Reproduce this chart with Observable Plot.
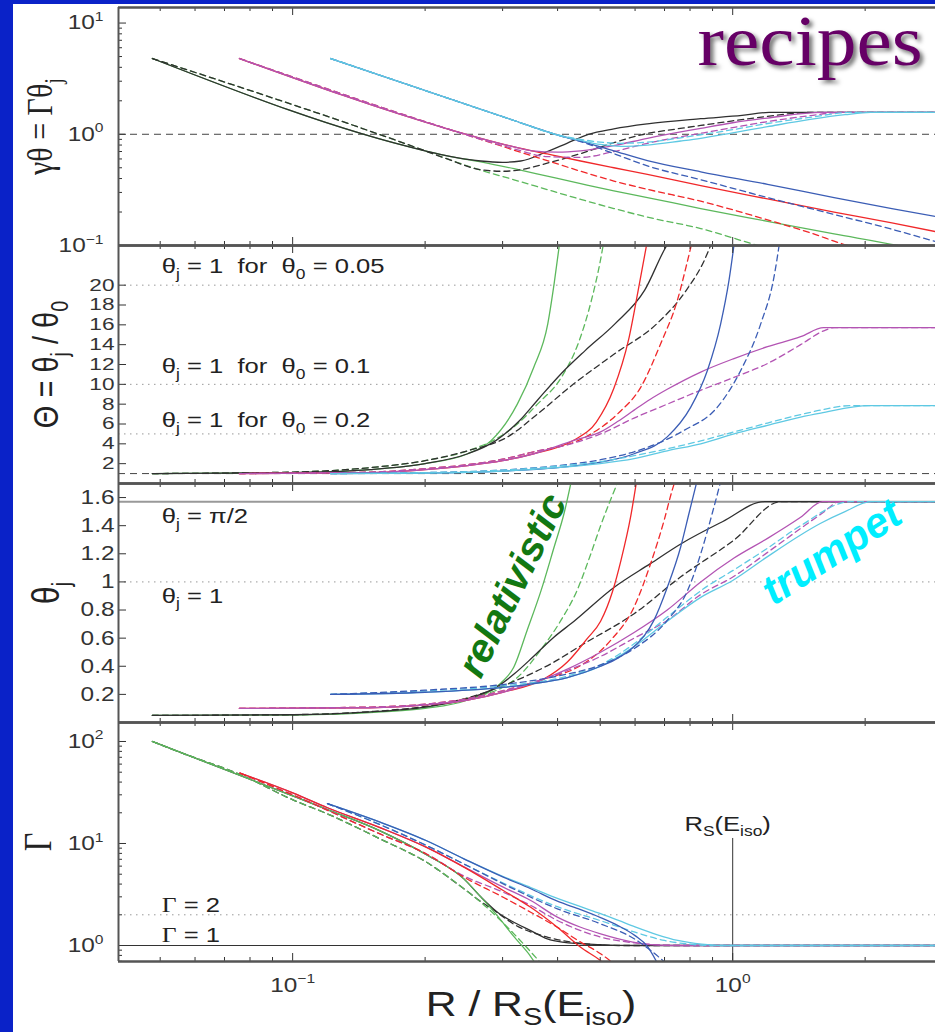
<!DOCTYPE html>
<html>
<head>
<meta charset="utf-8">
<script src="https://cdn.jsdelivr.net/npm/d3@7"></script>
<script src="https://cdn.jsdelivr.net/npm/@observablehq/plot@0.6"></script>
<style>
  html, body { margin: 0; padding: 0; background: #0a22c8; }
  #slide { position: relative; width: 935px; height: 1032px; background: #0a22c8; overflow: hidden; }
  #sheet { position: absolute; left: 13px; top: 4px; width: 922px; height: 1028px; background: #fff; }
</style>
</head>
<body>
<div id="slide"><div id="sheet"></div></div>
<script>
// ---- shared x axis: R / R_S(E_iso), logarithmic ----
const xDomain = [0.0402, 2.89];
const xMajor = [0.1, 1];
const xMinor = [0.05, 0.06, 0.07, 0.08, 0.09, 0.2, 0.3, 0.4, 0.5, 0.6, 0.7, 0.8, 0.9, 2];
const xTickLabels = [[0.1, "10^{−1}"], [1, "10^{0}"]];

// ---- panel 1: γθ = Γθj  (pairs are [R, value]) ----
const gt_green   = [[0.048,4.8],[0.2,0.71],[0.2246,0.64],[0.2676,0.565],[0.3185,0.49],[0.379,0.42],[0.4513,0.36],[0.537,0.31],[0.64,0.27],[0.846,0.215],[1.2,0.165],[1.7,0.127],[2.37,0.1],[2.6,0.092]];
const gt_green_d = [[0.048,4.8],[0.2,0.71],[0.2246,0.60],[0.2676,0.475],[0.3185,0.39],[0.379,0.318],[0.4513,0.26],[0.537,0.215],[0.64,0.18],[0.846,0.142],[1.14,0.1],[1.25,0.09]];
const gt_black   = [[0.048,4.8],[0.2,0.71],[0.2246,0.64],[0.2676,0.575],[0.3,0.56],[0.33,0.575],[0.379,0.7],[0.42,0.83],[0.47,1.0],[0.537,1.12],[0.64,1.24],[0.846,1.38],[1.05,1.48],[1.21,1.5708],[2.9,1.5708]];
const gt_black_d = [[0.048,4.8],[0.2,0.71],[0.2246,0.60],[0.2676,0.48],[0.3,0.465],[0.33,0.48],[0.379,0.55],[0.4513,0.67],[0.537,0.84],[0.62,0.99],[0.75,1.12],[0.846,1.2],[1.0,1.32],[1.2,1.45],[1.5,1.5708],[2.9,1.5708]];
const gt_red     = [[0.0757,4.8],[0.2246,1.12],[0.2676,0.92],[0.3185,0.77],[0.379,0.665],[0.4513,0.575],[0.537,0.5],[0.64,0.435],[0.846,0.345],[1.2,0.262],[1.7,0.2],[2.3,0.16],[2.9,0.133]];
const gt_red_d   = [[0.0757,4.8],[0.2246,1.12],[0.2676,0.9],[0.3185,0.72],[0.379,0.58],[0.4513,0.465],[0.537,0.38],[0.64,0.32],[0.846,0.25],[1.2,0.17],[1.5,0.13],[1.83,0.1],[1.95,0.094]];
const gt_mag     = [[0.0757,4.8],[0.2246,1.12],[0.2676,0.92],[0.3185,0.77],[0.35,0.71],[0.4,0.69],[0.4513,0.71],[0.537,0.79],[0.64,0.92],[0.846,1.13],[1.0,1.27],[1.2,1.4],[1.6,1.5708],[2.9,1.5708]];
const gt_mag_d   = [[0.0757,4.8],[0.2246,1.12],[0.2676,0.9],[0.3185,0.74],[0.379,0.63],[0.4513,0.62],[0.537,0.7],[0.64,0.83],[0.846,1.02],[1.0,1.15],[1.2,1.3],[1.5,1.47],[1.75,1.5708],[2.9,1.5708]];
const gt_cyan    = [[0.122,4.8],[0.3185,1.33],[0.395,1.0],[0.4513,0.88],[0.5,0.81],[0.557,0.78],[0.64,0.8],[0.762,0.87],[0.846,0.92],[1.0,1.03],[1.2,1.17],[1.5,1.36],[1.8,1.5],[2.06,1.5708],[2.9,1.5708]];
const gt_cyan_d  = [[0.122,4.8],[0.3185,1.33],[0.395,1.0],[0.4513,0.9],[0.5,0.85],[0.557,0.83],[0.64,0.85],[0.762,0.93],[0.846,0.99],[1.0,1.1],[1.2,1.25],[1.5,1.42],[1.85,1.5708],[2.9,1.5708]];
const gt_blue    = [[0.122,4.8],[0.3185,1.33],[0.395,1.0],[0.4513,0.87],[0.537,0.71],[0.64,0.58],[0.846,0.46],[1.2,0.355],[1.7,0.27],[2.3,0.215],[2.9,0.182]];
const gt_blue_d  = [[0.122,4.8],[0.3185,1.33],[0.395,1.0],[0.4513,0.86],[0.537,0.67],[0.64,0.52],[0.846,0.39],[1.2,0.27],[1.7,0.19],[2.3,0.14],[2.9,0.108]];
const gtTicks = [[0.1, "10^{−1}"], [1, "10^{0}"], [10, "10^{1}"]];

// ---- panel 2: Θ = θj / θ0 ----
const th_green   = [[0.048,1.0],[0.1,1.1],[0.15,1.4],[0.2,2.0],[0.25,3.0],[0.282,4.3],[0.324,8.0],[0.353,11.7],[0.38,16.1],[0.393,20.2],[0.405,24.5]];
const th_green_d = [[0.048,1.0],[0.1,1.15],[0.15,1.6],[0.2,2.3],[0.25,3.3],[0.29,4.5],[0.318,5.7],[0.36,8.0],[0.408,10.7],[0.448,14.4],[0.477,18.4],[0.5,22.4],[0.51,24.5]];
const th_black   = [[0.048,1.0],[0.1,1.1],[0.15,1.4],[0.2,2.0],[0.25,3.0],[0.289,4.3],[0.328,6.35],[0.36,8.4],[0.408,11.1],[0.462,13.4],[0.54,16.1],[0.631,19.5],[0.704,23.8],[0.72,24.5]];
const th_black_d = [[0.048,1.0],[0.1,1.15],[0.15,1.6],[0.2,2.3],[0.25,3.3],[0.308,4.7],[0.36,7.0],[0.434,10.0],[0.54,13.1],[0.672,16.1],[0.785,19.5],[0.862,22.5],[0.9,24.5]];
const th_red     = [[0.0757,1.0],[0.15,1.1],[0.2,1.4],[0.25,1.8],[0.3,2.3],[0.353,3.0],[0.434,4.33],[0.49,6.2],[0.537,9.6],[0.58,14.5],[0.61,19.5],[0.64,24.5]];
const th_red_d   = [[0.0757,1.0],[0.15,1.15],[0.2,1.5],[0.25,1.9],[0.3,2.45],[0.353,3.2],[0.459,4.6],[0.547,7.0],[0.618,9.7],[0.686,14.1],[0.749,18.5],[0.79,22.5],[0.81,24.5]];
const th_mag     = [[0.0757,1.0],[0.15,1.1],[0.2,1.4],[0.25,1.8],[0.3,2.3],[0.353,3.0],[0.434,4.33],[0.501,5.2],[0.55,6.3],[0.597,7.4],[0.65,8.5],[0.71,9.5],[0.846,11.24],[1.007,12.6],[1.2,13.8],[1.427,14.8],[1.61,15.71],[2.9,15.71]];
const th_mag_d   = [[0.0757,1.0],[0.15,1.15],[0.2,1.5],[0.25,1.9],[0.3,2.45],[0.353,3.2],[0.421,3.9],[0.501,5.0],[0.597,6.6],[0.71,8.0],[0.846,9.4],[1.007,10.7],[1.2,12.1],[1.427,14.0],[1.61,15.4],[1.7,15.71],[2.9,15.71]];
const th_cyan    = [[0.122,1.0],[0.2,1.05],[0.3,1.25],[0.4,1.6],[0.5,2.0],[0.597,2.5],[0.71,3.3],[0.846,4.0],[1.007,5.0],[1.2,5.86],[1.427,6.7],[1.585,7.1],[2.04,7.85],[2.9,7.85]];
const th_cyan_d  = [[0.122,1.0],[0.2,1.1],[0.3,1.35],[0.4,1.75],[0.5,2.2],[0.597,2.8],[0.71,3.5],[0.846,4.3],[1.007,5.2],[1.2,6.1],[1.427,6.95],[1.585,7.4],[1.85,7.85],[2.9,7.85]];
const th_blue    = [[0.122,1.0],[0.2,1.05],[0.3,1.25],[0.4,1.6],[0.501,2.15],[0.597,3.0],[0.71,4.7],[0.803,7.7],[0.876,11.4],[0.939,16.1],[0.981,20.5],[1.01,24.5]];
const th_blue_d  = [[0.122,1.0],[0.2,1.1],[0.3,1.35],[0.4,1.8],[0.501,2.4],[0.597,3.2],[0.775,5.35],[0.923,7.7],[1.043,11.4],[1.158,16.1],[1.241,20.8],[1.28,24.5]];
const thTicks = [2, 4, 6, 8, 10, 12, 14, 16, 18, 20];

// ---- panel 3: θj ----
const tj_green   = [[0.048,0.05],[0.1,0.053],[0.16,0.075],[0.2,0.1],[0.25,0.16],[0.297,0.28],[0.318,0.393],[0.341,0.655],[0.367,0.94],[0.393,1.25],[0.414,1.49],[0.43,1.72]];
const tj_green_d = [[0.048,0.05],[0.1,0.055],[0.15,0.075],[0.2,0.11],[0.25,0.175],[0.3,0.25],[0.324,0.32],[0.367,0.52],[0.407,0.726],[0.443,0.94],[0.476,1.2],[0.501,1.4],[0.55,1.72]];
const tj_black   = [[0.048,0.05],[0.1,0.055],[0.15,0.075],[0.2,0.11],[0.25,0.17],[0.29,0.25],[0.32,0.35],[0.35,0.46],[0.39,0.6],[0.436,0.72],[0.537,0.96],[0.65,1.13],[0.762,1.27],[0.95,1.43],[1.18,1.5708],[2.9,1.5708]];
const tj_black_d = [[0.048,0.05],[0.1,0.056],[0.15,0.077],[0.2,0.115],[0.25,0.175],[0.3,0.26],[0.386,0.417],[0.459,0.56],[0.597,0.774],[0.762,1.036],[1.007,1.298],[1.285,1.5708],[2.9,1.5708]];
const tj_red     = [[0.0757,0.1],[0.15,0.105],[0.2,0.125],[0.25,0.16],[0.3,0.215],[0.373,0.31],[0.421,0.43],[0.468,0.6],[0.501,0.72],[0.533,0.93],[0.557,1.15],[0.586,1.46],[0.605,1.72]];
const tj_red_d   = [[0.0757,0.1],[0.15,0.11],[0.2,0.13],[0.25,0.17],[0.3,0.225],[0.373,0.31],[0.444,0.393],[0.528,0.584],[0.597,0.822],[0.651,1.131],[0.699,1.441],[0.729,1.655],[0.74,1.72]];
const tj_mag     = [[0.0757,0.1],[0.15,0.105],[0.2,0.125],[0.25,0.16],[0.3,0.215],[0.373,0.31],[0.421,0.38],[0.501,0.5],[0.597,0.64],[0.71,0.8],[0.846,1.0],[1.007,1.17],[1.2,1.31],[1.427,1.46],[1.6,1.5708],[2.9,1.5708]];
const tj_mag_d   = [[0.0757,0.1],[0.15,0.11],[0.2,0.13],[0.25,0.17],[0.3,0.225],[0.373,0.31],[0.421,0.37],[0.501,0.47],[0.597,0.6],[0.71,0.726],[0.846,0.91],[1.007,1.04],[1.2,1.21],[1.427,1.38],[1.6,1.49],[1.75,1.5708],[2.9,1.5708]];
const tj_cyan    = [[0.122,0.2],[0.2,0.215],[0.3,0.25],[0.35,0.275],[0.421,0.32],[0.501,0.4],[0.597,0.54],[0.71,0.72],[0.846,0.89],[1.0,1.01],[1.2,1.18],[1.427,1.334],[1.585,1.417],[1.8,1.5],[2.06,1.5708],[2.9,1.5708]];
const tj_cyan_d  = [[0.122,0.2],[0.2,0.225],[0.3,0.26],[0.421,0.33],[0.501,0.41],[0.597,0.56],[0.71,0.75],[0.876,0.97],[1.0,1.08],[1.2,1.24],[1.427,1.4],[1.85,1.5708],[2.9,1.5708]];
const tj_blue    = [[0.122,0.2],[0.2,0.215],[0.3,0.25],[0.35,0.275],[0.421,0.32],[0.501,0.4],[0.55,0.46],[0.597,0.54],[0.663,0.73],[0.71,0.96],[0.762,1.25],[0.796,1.49],[0.83,1.72]];
const tj_blue_d  = [[0.122,0.2],[0.2,0.23],[0.3,0.27],[0.4,0.33],[0.501,0.41],[0.6,0.53],[0.71,0.726],[0.79,0.94],[0.846,1.2],[0.899,1.49],[0.94,1.72]];
const tjTicks = [[0.2,"0.2"],[0.4,"0.4"],[0.6,"0.6"],[0.8,"0.8"],[1,"1"],[1.2,"1.2"],[1.4,"1.4"],[1.6,"1.6"]];

// ---- panel 4: Γ ----
const lf_green   = [[0.048,100],[0.1007,29],[0.12,21.5],[0.158,13.3],[0.201,7.8],[0.245,4.5],[0.2676,3.0],[0.292,1.95],[0.3184,1.22],[0.3475,0.78],[0.36,0.62]];
const lf_green_d = [[0.048,100],[0.0556,78],[0.0759,47.5],[0.1007,26.5],[0.12,19.5],[0.158,11.1],[0.201,6.6],[0.245,3.6],[0.2676,2.66],[0.3184,1.3],[0.379,0.57]];
const lf_black   = [[0.048,100],[0.1007,29],[0.12,21.5],[0.158,13.3],[0.201,7.8],[0.245,4.5],[0.2676,3.0],[0.292,2.12],[0.318,1.69],[0.3475,1.4],[0.379,1.16],[0.41,1.08],[0.5,1.02],[0.6,1.0],[2.9,1.0]];
const lf_black_d = [[0.048,100],[0.0556,78],[0.0759,47.5],[0.1007,26.5],[0.12,19.5],[0.158,11.1],[0.201,6.6],[0.245,3.6],[0.2676,2.7],[0.292,2.1],[0.318,1.62],[0.379,1.21],[0.4513,1.05],[0.55,1.0],[2.9,1.0]];
const lf_red     = [[0.0759,49],[0.1007,31],[0.12,22.4],[0.158,14.3],[0.201,9.2],[0.245,5.86],[0.301,3.46],[0.3475,2.37],[0.3995,1.51],[0.4513,0.96],[0.501,0.71],[0.52,0.62]];
const lf_red_d   = [[0.0759,49],[0.1007,29.6],[0.158,12.4],[0.201,7.93],[0.245,4.68],[0.301,2.97],[0.3475,2.12],[0.3995,1.51],[0.4513,1.08],[0.501,0.83],[0.54,0.65]];
const lf_mag     = [[0.0759,49],[0.1007,31],[0.12,22.4],[0.158,14.3],[0.201,9.2],[0.245,5.9],[0.301,3.73],[0.3475,2.76],[0.3995,1.9],[0.4513,1.51],[0.501,1.3],[0.593,1.08],[0.65,1.02],[0.75,1.0],[2.9,1.0]];
const lf_mag_d   = [[0.0759,49],[0.1007,29.6],[0.158,12.4],[0.201,7.93],[0.245,4.8],[0.301,3.33],[0.3475,2.47],[0.3995,1.76],[0.4513,1.4],[0.501,1.21],[0.6,1.06],[0.7,1.01],[0.8,1.0],[2.9,1.0]];
const lf_blue    = [[0.12,24.6],[0.158,16.2],[0.201,10.7],[0.245,7.08],[0.301,4.68],[0.3475,3.6],[0.3995,2.72],[0.4513,2.25],[0.501,1.88],[0.55,1.56],[0.6,1.25],[0.64,0.98],[0.672,0.69]];
const lf_blue_d  = [[0.12,24.6],[0.158,15.3],[0.201,9.6],[0.245,6.3],[0.301,4.02],[0.3995,2.29],[0.501,1.63],[0.6,1.15],[0.65,0.9],[0.7,0.69]];
const lf_cyan    = [[0.12,24.6],[0.158,16.2],[0.201,10.7],[0.245,7.08],[0.301,4.75],[0.3475,3.7],[0.3995,2.9],[0.4513,2.4],[0.501,2.05],[0.55,1.76],[0.6,1.52],[0.672,1.28],[0.75,1.12],[0.85,1.03],[0.95,1.0],[2.9,1.0]];
const lf_cyan_d  = [[0.12,24.6],[0.158,15.3],[0.201,9.6],[0.245,6.3],[0.301,4.1],[0.3995,2.4],[0.501,1.75],[0.6,1.35],[0.7,1.12],[0.8,1.03],[0.9,1.0],[2.9,1.0]];
const lfTicks = [[1, "10^{0}"], [10, "10^{1}"], [100, "10^{2}"]];

// ---- styling ----
const COLOR = { green: "#5cb85c", black: "#303030", red: "#f0282a", magenta: "#b354b3", blue: "#3b5db5", cyan: "#5fc9e3" };
const INK = "#333";
const FRAME = "#555";
const SANS = "Liberation Sans, Arial, Helvetica, sans-serif";
const SERIF = "Liberation Serif, Times New Roman, serif";
const W = 935, LEFT = 118;
const WIDE = 1.22;   // lettering on this sheet is set slightly wide

function curves(list) {
  return list.map(([pts, color, dashed]) => Plot.line(pts, {
    x: d => d[0], y: d => d[1], stroke: COLOR[color], strokeWidth: 1.3,
    curve: "monotone-x", clip: true, ...(dashed ? { strokeDasharray: "6,4" } : {})
  }));
}

function chrome(h, yDomain, yMajor, yMinor) {
  const pw = W - LEFT;
  return [
    Plot.tickX(xMajor, { insetTop: h - 8, stroke: INK }),
    Plot.tickX(xMinor, { insetTop: h - 4, stroke: INK }),
    Plot.tickX(xMajor, { insetBottom: h - 8, stroke: INK }),
    Plot.tickX(xMinor, { insetBottom: h - 4, stroke: INK }),
    Plot.tickY(yMajor, { insetRight: pw - 8, stroke: INK }),
    Plot.tickY(yMinor, { insetRight: pw - 4, stroke: INK }),
    Plot.ruleY(yDomain, { stroke: FRAME, strokeWidth: 2.5 }),
    Plot.ruleX([xDomain[0]], { stroke: FRAME, strokeWidth: 2 })
  ];
}

function yLabels(ticks, dx, size = 20) {
  return Plot.text(ticks, { y: d => d[0], text: d => d[1], frameAnchor: "left", dx, textAnchor: "end", fontSize: size, fill: INK });
}

function yTitle(label, dx, size, family, dy = 0) {
  return Plot.text([label], { text: d => d, frameAnchor: "left", textAnchor: "middle", lineAnchor: "middle", dx, dy, rotate: -90, fontSize: size, fontFamily: family, fill: "#222" });
}

function panel(top, h, y, marks, marginBottom = 0) {
  const svg = Plot.plot({
    width: W, height: h + marginBottom,
    marginLeft: LEFT, marginRight: 0, marginTop: 0, marginBottom,
    x: { type: "log", domain: xDomain, axis: null },
    y: { ...y, axis: null },
    style: { fontFamily: SANS, fontSize: "20px", color: "#222", background: "transparent", overflow: "visible" },
    marks
  });
  svg.style.position = "absolute";
  svg.style.left = "0px";
  svg.style.top = top + "px";
  svg.style.maxWidth = "none";
  document.getElementById("slide").appendChild(svg);
  enrich(svg);
  widen(svg);
  return svg;
}

// turns _{..} into subscripts, ^{..} into superscripts and ~{..} into serif runs
function enrich(root) {
  root.querySelectorAll("text").forEach(el => {
    const s = el.textContent;
    if (!/[_^~]\{/.test(s)) return;
    const F = parseFloat(getComputedStyle(el).fontSize) || 20;
    el.textContent = "";
    let level = 0;
    const re = /([_^~])\{([^}]*)\}|([^_^~]+)/g;
    let m;
    while ((m = re.exec(s))) {
      const t = document.createElementNS("http://www.w3.org/2000/svg", "tspan");
      let target = 0;
      if (m[1] === "_") { target = 0.28 * F; t.setAttribute("font-size", 0.68 * F); t.textContent = m[2]; }
      else if (m[1] === "^") { target = -0.42 * F; t.setAttribute("font-size", 0.64 * F); t.textContent = m[2]; }
      else if (m[1] === "~") { t.setAttribute("font-family", SERIF); t.textContent = m[2]; }
      else t.textContent = m[3];
      if (target !== level) { t.setAttribute("dy", target - level); level = target; }
      el.appendChild(t);
    }
  });
}

// widens lettering horizontally around each text's own anchor
function widen(root) {
  root.querySelectorAll("text").forEach(el => {
    const s = el.textContent;
    if (s === "relativistic" || s === "trumpet") return;
    const small = parseFloat(getComputedStyle(el).fontSize) < 19;
    const k = s === "recipes" ? 1.12 : small ? 1.33 : WIDE;
    const tf = el.getAttribute("transform") || "";
    if (!tf.startsWith("translate")) return;
    const i = tf.indexOf(")");
    el.setAttribute("transform", tf.slice(0, i + 1) + ` scale(${k},1)` + tf.slice(i + 1));
  });
}

const NB = "\u00a0";

// ---- panel 1 ----
const P1 = [0.1, 13.8];
panel(7, 238, { type: "log", domain: P1 }, [
  Plot.ruleY([1], { stroke: "#444", strokeDasharray: "7,5" }),
  ...curves([
    [gt_green_d, "green", 1], [gt_green, "green", 0],
    [gt_black_d, "black", 1], [gt_black, "black", 0],
    [gt_red_d, "red", 1], [gt_red, "red", 0],
    [gt_mag_d, "magenta", 1], [gt_mag, "magenta", 0],
    [gt_blue_d, "blue", 1], [gt_blue, "blue", 0],
    [gt_cyan_d, "cyan", 1], [gt_cyan, "cyan", 0]
  ]),
  ...chrome(238, P1, [0.1, 1, 10], [0.2,0.3,0.4,0.5,0.6,0.7,0.8,0.9,2,3,4,5,6,7,8,9]),
  yLabels(gtTicks, -15),
  yTitle("γθ = Γθ_{j}", -78, 30, SERIF),
  Plot.text([{ x: 1.5, y: 4.16, t: "recipes" }], { x: "x", y: "y", text: "t", lineAnchor: "bottom", fontSize: 71, fontFamily: SERIF, fill: "#660066" })
]);

// ---- panel 2 ----
const P2 = [0, 24];
panel(245, 238, { type: "linear", domain: P2 }, [
  Plot.ruleY([5, 10, 20], { stroke: "#999", strokeDasharray: "1.5,4.5" }),
  Plot.ruleY([1], { stroke: "#444", strokeDasharray: "7,5" }),
  ...curves([
    [th_green_d, "green", 1], [th_green, "green", 0],
    [th_black_d, "black", 1], [th_black, "black", 0],
    [th_red_d, "red", 1], [th_red, "red", 0],
    [th_mag_d, "magenta", 1], [th_mag, "magenta", 0],
    [th_blue_d, "blue", 1], [th_blue, "blue", 0],
    [th_cyan_d, "cyan", 1], [th_cyan, "cyan", 0]
  ]),
  ...chrome(238, P2, thTicks, []),
  yLabels(thTicks.map(v => [v, String(v)]), -4, 17),
  yTitle("Θ = θ_{j} / θ_{0}", -72, 29, SANS),
  Plot.text([
    { x: 0.0504, y: 21.2, t: `θ_{j} = 1${NB} for${NB} θ_{0} = 0.05` },
    { x: 0.0504, y: 11.1, t: `θ_{j} = 1${NB} for${NB} θ_{0} = 0.1` },
    { x: 0.0504, y: 5.65, t: `θ_{j} = 1${NB} for${NB} θ_{0} = 0.2` }
  ], { x: "x", y: "y", text: "t", textAnchor: "start", lineAnchor: "bottom", fontSize: 21, fill: "#222" })
]);

// ---- panel 3 ----
const P3 = [0, 1.7];
panel(483, 239, { type: "linear", domain: P3 }, [
  Plot.ruleY([Math.PI / 2], { stroke: "#999", strokeWidth: 2 }),
  Plot.ruleY([1], { stroke: "#999", strokeDasharray: "1.5,4.5" }),
  ...curves([
    [tj_green_d, "green", 1], [tj_green, "green", 0],
    [tj_black_d, "black", 1], [tj_black, "black", 0],
    [tj_red_d, "red", 1], [tj_red, "red", 0],
    [tj_mag_d, "magenta", 1], [tj_mag, "magenta", 0],
    [tj_cyan_d, "cyan", 1], [tj_cyan, "cyan", 0],
    [tj_blue_d, "blue", 1], [tj_blue, "blue", 0]
  ]),
  ...chrome(239, P3, tjTicks.map(d => d[0]), []),
  yLabels(tjTicks, -4),
  yTitle("θ_{j}", -72, 32, SANS, -10),
  Plot.text([
    { x: 0.0504, y: 1.42, t: "θ_{j} = π/2" },
    { x: 0.0504, y: 0.853, t: "θ_{j} = 1" }
  ], { x: "x", y: "y", text: "t", textAnchor: "start", lineAnchor: "bottom", fontSize: 21, fill: "#222" }),
  Plot.text([{ x: 0.316, y: 0.976, t: "relativistic" }], { x: "x", y: "y", text: "t", rotate: -64, fontSize: 40, fontWeight: "bold", fontStyle: "italic", fill: "#127812" }),
  Plot.text([{ x: 1.68, y: 1.21, t: "trumpet" }], { x: "x", y: "y", text: "t", rotate: -33, fontSize: 42, fontWeight: "bold", fontStyle: "italic", fill: "#00eeff" })
]);

// ---- panel 4 ----
const P4 = [0.697, 153.5];
panel(722, 239, { type: "log", domain: P4 }, [
  Plot.ruleY([2], { stroke: "#999", strokeDasharray: "1.5,4.5" }),
  Plot.ruleY([1], { stroke: "#333", strokeWidth: 1 }),
  Plot.ruleX([{ x: 1, y1: P4[0], y2: 11.2 }], { x: "x", y1: "y1", y2: "y2", stroke: "#333", strokeWidth: 1 }),
  ...curves([
    [lf_black_d, "black", 1], [lf_black, "black", 0],
    [lf_green_d, "green", 1], [lf_green, "green", 0],
    [lf_mag_d, "magenta", 1], [lf_mag, "magenta", 0],
    [lf_red_d, "red", 1], [lf_red, "red", 0],
    [lf_cyan_d, "cyan", 1], [lf_cyan, "cyan", 0],
    [lf_blue_d, "blue", 1], [lf_blue, "blue", 0]
  ]),
  ...chrome(239, P4, [1, 10, 100], [0.7,0.8,0.9,2,3,4,5,6,7,8,9,20,30,40,50,60,70,80,90]),
  yLabels(lfTicks, -15),
  yTitle("Γ", -80, 32, SERIF),
  Plot.text([
    { x: 0.0504, y: 2.11, t: "~{Γ} = 2" },
    { x: 0.0504, y: 1.09, t: "~{Γ} = 1" }
  ], { x: "x", y: "y", text: "t", textAnchor: "start", lineAnchor: "bottom", fontSize: 21, fill: "#222" }),
  Plot.text([{ x: 0.974, y: 13.4, t: "R_{S}(E_{iso})" }], { x: "x", y: "y", text: "t", lineAnchor: "bottom", fontSize: 21, fill: "#222" }),
  Plot.text(xTickLabels, { x: d => d[0], text: d => d[1], frameAnchor: "bottom", lineAnchor: "bottom", dy: 30, fontSize: 20, fill: INK }),
  Plot.text(["R / R_{S}(E_{iso})"], { text: d => d, frameAnchor: "bottom", lineAnchor: "bottom", dx: 4, dy: 54, fontSize: 35, fill: "#222" })
], 71);

// soft drop shadow behind the title word
document.querySelectorAll("#slide text").forEach(t => {
  if (t.textContent === "recipes") t.style.filter = "drop-shadow(3px 3px 2px rgba(0,0,0,0.55))";
});
</script>
</body>
</html>
